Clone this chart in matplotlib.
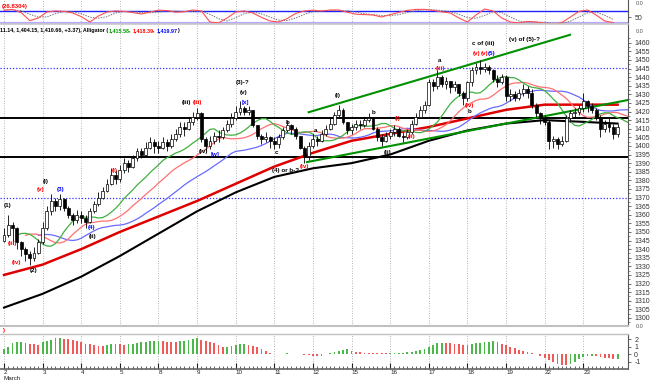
import numpy as np
import pandas as pd
import matplotlib
matplotlib.use("Agg")
import matplotlib.pyplot as plt
from matplotlib.ticker import FixedLocator

# ---------------- data ----------------
day_labels = ["2", "3", "4", "5", "8", "9", "10", "11", "12",
              "15", "16", "17", "18", "19", "22", "23"]
month_label = "March"
bars_per_day = 9
first_open = 1345

close = [
    1348, 1354, 1352, 1344, 1340, 1337, 1335, 1338, 1344,
    1352, 1362, 1368, 1365, 1369, 1364, 1360, 1357, 1360,
    1358, 1356, 1362, 1366, 1370, 1374, 1378, 1383, 1381,
    1386, 1390, 1388, 1393, 1397, 1395, 1399, 1402, 1400,
    1399, 1402, 1400, 1404, 1407, 1411, 1410, 1414, 1417,
    1419, 1404, 1400, 1403, 1406, 1405, 1409, 1413, 1416,
    1420, 1422, 1420, 1421, 1412, 1406, 1404, 1405, 1403,
    1401, 1405, 1409, 1412, 1410, 1406, 1399, 1394, 1400,
    1404, 1403, 1407, 1410, 1413, 1418, 1421, 1414, 1409,
    1411, 1413, 1412, 1415, 1416, 1410, 1405, 1403, 1406,
    1408, 1410, 1406, 1405, 1408, 1413, 1417, 1421, 1424,
    1437, 1435, 1440, 1436, 1438, 1434, 1436, 1431, 1428,
    1437, 1444, 1446, 1445, 1446, 1444, 1439, 1437, 1440,
    1429, 1430, 1428, 1431, 1433, 1431, 1424, 1419, 1416,
    1414, 1403, 1404, 1401, 1403, 1416, 1419, 1420, 1422,
    1426, 1423, 1421, 1417, 1410, 1413, 1411, 1407, 1411,
]
high = [
    1352, 1360, 1356, 1353, 1345, 1341, 1339, 1341, 1346,
    1356, 1365, 1372, 1370, 1372, 1370, 1365, 1361, 1363,
    1362, 1360, 1364, 1368, 1373, 1376, 1381, 1387, 1386,
    1389, 1393, 1392, 1395, 1399, 1399, 1402, 1405, 1404,
    1403, 1405, 1404, 1407, 1410, 1414, 1414, 1417, 1420,
    1422, 1420, 1405, 1406, 1408, 1409, 1411, 1415, 1419,
    1423, 1426, 1423, 1423, 1421, 1412, 1407, 1408, 1406,
    1405, 1407, 1411, 1415, 1413, 1411, 1406, 1400, 1402,
    1407, 1406, 1409, 1412, 1416, 1420, 1424, 1422, 1414,
    1413, 1415, 1415, 1417, 1419, 1417, 1411, 1407, 1408,
    1410, 1412, 1411, 1408, 1410, 1415, 1419, 1423, 1426,
    1439, 1439, 1444, 1441, 1440, 1438, 1438, 1436, 1432,
    1438, 1446, 1448, 1450, 1448, 1447, 1445, 1441, 1442,
    1441, 1433, 1432, 1433, 1436, 1435, 1433, 1425, 1420,
    1418, 1415, 1406, 1405, 1406, 1418, 1421, 1422, 1424,
    1431, 1427, 1425, 1422, 1418, 1415, 1416, 1413, 1413,
]
low = [
    1344, 1347, 1343, 1340, 1336, 1333, 1331, 1333, 1337,
    1343, 1351, 1360, 1362, 1363, 1362, 1358, 1354, 1355,
    1355, 1352, 1355, 1361, 1365, 1369, 1373, 1377, 1378,
    1379, 1384, 1385, 1387, 1391, 1393, 1394, 1398, 1396,
    1396, 1398, 1397, 1399, 1403, 1405, 1406, 1409, 1412,
    1415, 1402, 1397, 1398, 1401, 1402, 1404, 1408, 1411,
    1415, 1418, 1418, 1418, 1411, 1404, 1401, 1402, 1399,
    1398, 1399, 1404, 1408, 1407, 1404, 1398, 1390, 1392,
    1399, 1400, 1402, 1406, 1409, 1412, 1417, 1413, 1407,
    1407, 1409, 1410, 1411, 1414, 1409, 1403, 1400, 1402,
    1404, 1406, 1405, 1402, 1404, 1407, 1412, 1416, 1419,
    1423, 1432, 1433, 1434, 1433, 1431, 1432, 1429, 1424,
    1426, 1435, 1442, 1442, 1443, 1442, 1437, 1434, 1436,
    1426, 1426, 1426, 1427, 1429, 1428, 1422, 1417, 1413,
    1412, 1398, 1399, 1398, 1400, 1402, 1414, 1416, 1418,
    1420, 1420, 1419, 1415, 1405, 1408, 1408, 1404, 1405,
]

# long moving averages, value at each day start and at the last bar
ma_red_thick = [1325, 1331, 1340, 1350, 1359, 1368, 1378, 1388, 1396,
                1403, 1407, 1411, 1416, 1421, 1424, 1424, 1424]
ma_black_thick = [1306, 1314, 1324, 1336, 1349, 1362, 1373, 1382, 1387,
                  1390, 1395, 1403, 1409, 1413, 1415, 1414, 1413]

# horizontal levels
level_solid = [1416.3, 1393.5]
level_dotted = [1445.5, 1369.5]

# channel lines: (bar, price) endpoints
channel_upper = [(71.0, 1419.6), (131.9, 1464.6)]
channel_lower = [(70.6, 1390.6), (145.4, 1426.7)]

# stochastic (%K) every 2 bars
stoch_k = [84, 88, 72, 32, 45, 75, 80, 78, 70, 52, 25, 55, 75, 80, 78, 72,
           65, 75, 84, 82, 74, 76, 85, 80, 25, 20, 45, 75, 80, 70, 48, 30,
           25, 42, 68, 80, 84, 80, 85, 85, 74, 64, 62, 60, 50, 62, 73, 83,
           88, 88, 83, 76, 70, 45, 25, 60, 90, 80, 45, 25, 20, 28, 25, 18,
           15, 22, 50, 78, 85, 60, 30, 22]

# lower oscillator histogram (one value per bar)
hist = [
    0.64, 0.9, 1.45, 1.6, 1.64, 1.45, 1.36, 1.32, 1.23,
    1.55, 1.73, 1.9, 2.1, 2.14, 2.05, 2.0, 1.82, 1.73,
    1.6, 1.36, 1.27, 1.18, 1.05, 1.04, 1.18, 1.27, 1.36,
    1.27, 1.26, 1.32, 1.36, 1.45, 1.55, 1.64, 1.68, 1.73,
    1.77, 1.73, 1.64, 1.63, 1.62, 1.68, 1.77, 1.86, 2.0,
    2.1, 1.9, 1.77, 1.64, 1.45, 1.23, 0.95, 1.0, 1.09,
    1.18, 1.27, 1.28, 1.23, 1.09, 0.91, 0.64, 0.45, 0.18,
    0.05, 0.06, 0.04, 0.07, 0.05, 0.03, -0.05, -0.1, -0.15,
    -0.2, -0.25, -0.2, -0.05, 0.15, 0.3, 0.45, 0.55, 0.64,
    0.45, 0.3, 0.25, 0.2, 0.18, 0.15, 0.12, 0.1, 0.08,
    0.1, 0.12, 0.15, 0.2, 0.25, 0.3, 0.4, 0.5, 0.7,
    1.0, 1.2, 1.45, 1.5, 1.48, 1.45, 1.4, 1.3, 1.2,
    1.25, 1.35, 1.45, 1.5, 1.55, 1.6, 1.7, 1.6, 1.4,
    1.2, 1.0, 0.8, 0.55, 0.4, 0.25, 0.1, 0.05, -0.2,
    -0.5, -0.8, -1.1, -1.3, -1.4, -1.5, -1.3, -1.0, -0.7,
    -0.4, -0.3, -0.25, -0.3, -0.4, -0.5, -0.55, -0.6, -0.6,
]

# wave labels: text, bar, price, colour
wave_text = ["(1)", "(iii)", "(iv)", "(2)", "(i)", "(v)", "(3)", "(4)", "(ii)",
             "(i)", "(iii)", "(iii)", "(iv)", "[w]", "(3)-?", "(v)", "[x]",
             "c", "b", "(iv)", "(4) or b-?", "a", "(i)", "b", "(ii)", "(i)",
             "(ii)", "a", "(iii)", "(iv)", "b", "c of (iii)", "(v)", "(v)",
             "(5)", "(v) of (5)-?"]
wave_bar = [0.9, 1.9, 2.8, 7.0, 9.8, 8.6, 13.3, 20.5, 20.7,
            25.9, 42.6, 45.2, 46.4, 49.2, 55.7, 55.9, 56.2,
            63.6, 66.0, 70.1, 65.7, 72.5, 77.8, 86.0, 89.3, 91.8,
            95.1, 101.6, 101.8, 108.4, 108.6, 111.6, 110.2, 111.9,
            113.7, 121.2]
wave_price = [1365.6, 1343.5, 1332.5, 1327.8, 1379.6, 1374.4, 1374.4, 1352.3, 1347.6,
              1386.0, 1425.0, 1425.0, 1396.5, 1395.3, 1436.6, 1430.8, 1425.5,
              1395.9, 1413.9, 1388.3, 1386.0, 1409.2, 1429.6, 1419.7, 1395.9, 1416.2,
              1405.2, 1449.9, 1445.3, 1423.8, 1420.3, 1459.8, 1454.0, 1454.0,
              1454.0, 1461.6]
wave_color = ["k", "r", "r", "k", "k", "r", "b", "b", "k",
              "r", "k", "r", "k", "b", "k", "k", "b",
              "k", "k", "r", "k", "k", "k", "k", "k", "r",
              "r", "k", "r", "r", "k", "k", "r", "r",
              "b", "k"]

header_parts = [("11.14, 1,404.15, 1,410.66, +3.37), Alligator (", "#000000"),
                ("1,415.58", "#00a000"), (", ", "#000000"),
                ("1,418.39", "#ff0000"), (", ", "#000000"),
                ("1,419.97", "#0000ff"), (")", "#000000")]
stoch_title = "(26.8304)"

# ---------------- drawing ----------------
plt.rcParams['font.family'] = ['Liberation Sans', 'DejaVu Sans']
W, H = 650, 381
fig = plt.figure(figsize=(6.5, 3.81), dpi=100)
fig.patch.set_facecolor("white")


def rect(x0, y0, x1, y1):
    return [x0 / W, 1 - y1 / H, (x1 - x0) / W, (y1 - y0) / H]


px_per_bar = 4.291
xlim = (-4 / px_per_bar, 624 / px_per_bar)

ax_st = fig.add_axes(rect(0, 0, 628, 24))
ax = fig.add_axes(rect(0, 24, 628, 326))
ax_h = fig.add_axes(rect(0, 334, 628, 369))

n = len(close)
x = np.arange(n)
c = np.array(close, float)
o = np.concatenate([[first_open], c[:-1]])
hi = np.maximum(np.array(high, float), np.maximum(o, c))
lo = np.minimum(np.array(low, float), np.minimum(o, c))
day_starts = np.arange(len(day_labels)) * bars_per_day

grid_kw = dict(color="#9a9a9a", lw=0.6, ls=(0, (1, 2)), zorder=0)
for a in (ax_st, ax, ax_h):
    a.set_xlim(*xlim)
    for d in day_starts:
        a.axvline(d, **grid_kw)
    for s in ("left", "top", "bottom"):
        a.spines[s].set_visible(False)
    a.spines["right"].set_color("#555555")
    a.spines["right"].set_linewidth(0.8)
    a.yaxis.tick_right()
    a.tick_params(axis="y", which="major", labelsize=5, length=2.5, width=0.5,
                  colors="#333333", pad=2)
    a.tick_params(axis="y", which="minor", length=1.3, width=0.4, colors="#333333")
    a.set_xticks([])

# --- stochastic panel
ax_st.set_ylim(15, 135)
kx = np.arange(len(stoch_k)) * 2
k = pd.Series(stoch_k, dtype=float)
sig = k.rolling(3, min_periods=1).mean()
ax_st.axhline(80, color="#2020ff", lw=1.0, zorder=1)
ax_st.axhline(20, color="#b8a8ff", lw=1.6, zorder=1)
ax_st.plot(kx, sig, color="#777777", lw=0.7, ls=(0, (1.5, 1.2)), zorder=2)
ax_st.plot(kx, k, color="#ff5050", lw=0.8, zorder=3)
ax_st.set_yticks([50])
ax_st.set_yticklabels(["50"])
fig.text(2 / W, 1 - 9 / H, stoch_title, color="#ff0000", fontsize=4.3,
         fontweight="bold", va="bottom")

# --- main price panel
ax.set_ylim(1295.3, 1470.9)
ax.yaxis.set_major_locator(FixedLocator(np.arange(1300, 1461, 5)))
ax.yaxis.set_minor_locator(FixedLocator(np.arange(1297.5, 1463, 5)))

for lv in level_solid:
    ax.axhline(lv, color="#000000", lw=1.4, zorder=1.5)
for lv in level_dotted:
    ax.axhline(lv, color="#3030ff", lw=0.9, ls=(0, (1, 1.5)), zorder=1.5)

ma_x = list(day_starts) + [n - 1]
ax.plot(ma_x, ma_black_thick, color="#000000", lw=1.5, zorder=2)
ax.plot(ma_x, ma_red_thick, color="#e00000", lw=1.8, zorder=2)

median = pd.Series((hi + lo) / 2.0)
jaw = median.ewm(alpha=1 / 13, adjust=False).mean()
teeth = median.ewm(alpha=1 / 8, adjust=False).mean()
lips = median.ewm(alpha=1 / 5, adjust=False).mean()
ax.plot(x + 8, jaw, color="#6a6aff", lw=0.9, zorder=2.2)
ax.plot(x + 5, teeth, color="#ff7070", lw=0.9, zorder=2.2)
ax.plot(x + 3, lips, color="#40b040", lw=0.9, zorder=2.2)

for seg in (channel_upper, channel_lower):
    ax.plot([seg[0][0], seg[1][0]], [seg[0][1], seg[1][1]], color="#009000",
            lw=1.5, zorder=2.4)

ax.vlines(x, lo, hi, color="#000000", lw=0.6, zorder=3)
body_low = np.minimum(o, c)
body_h = np.maximum(np.abs(c - o), 0.4)
face = np.where(c >= o, "#ffffff", "#000000")
ax.bar(x, body_h, bottom=body_low, width=0.68, color=face, edgecolor="#000000",
       linewidth=0.5, zorder=3.5)

for t, bx, bp, col in zip(wave_text, wave_bar, wave_price, wave_color):
    cc = {"k": "#000000", "r": "#ff0000", "b": "#0000ff"}[col]
    ax.text(bx, bp, t, color=cc, fontsize=4.5, fontweight="bold",
            ha="center", va="center", zorder=5)

# header text (multi coloured)
prev = fig.text(0, 1 - 33 / H, header_parts[0][0], color=header_parts[0][1],
                fontsize=3.9, fontweight="bold", va="bottom", ha="left")
for t, col in header_parts[1:]:
    prev = fig.add_artist(plt.Annotation(t, xy=(1, 0), xycoords=prev,
                                         va="bottom", ha="left", color=col,
                                         fontsize=3.9, fontweight="bold"))

# --- histogram panel
ax_h.set_ylim(-2.0, 2.67)
ax_h.set_yticks([2, 1, 0, -1])
ax_h.set_yticklabels(["2", "1", "0", "-1"])
hv = np.array(hist, float)
prev_v = np.concatenate([[hv[0] - 1], hv[:-1]])
hcol = np.where(hv >= prev_v, "#4cb84c", "#f25a5a")
ax_h.bar(np.arange(len(hv)), hv, width=0.42, color=hcol, zorder=2)
ax_h.set_xticks(day_starts)
ax_h.set_xticklabels(day_labels, ha="left")
ax_h.xaxis.set_minor_locator(FixedLocator(np.arange(0, 145, 1)))
ax_h.tick_params(axis="x", which="major", direction="in", length=4, width=0.8,
                 labelsize=4.5, pad=1, colors="#222222")
ax_h.tick_params(axis="x", which="minor", direction="in", length=2, width=0.5,
                 colors="#222222")
ax_h.spines["bottom"].set_visible(True)
ax_h.spines["bottom"].set_color("#666666")
ax_h.spines["bottom"].set_linewidth(1.2)
fig.text(4 / W, 1 - 381 / H, month_label, fontsize=4.5, color="#222222",
         va="bottom", ha="left")

# separators
for yy, col, lw in ((24, "#c8c8c8", 1.2), (326, "#c0c0c0", 1.5), (334, "#c0c0c0", 1.0)):
    fig.add_artist(plt.Line2D([0, 628 / W], [1 - yy / H, 1 - yy / H], color=col, lw=lw))
fig.text(2 / W, 1 - 333 / H, ")", color="#ff0000", fontsize=4.5,
         fontweight="bold", va="bottom")
for yy in (6, 34, 329):
    fig.text(636 / W, 1 - yy / H, "0.0", fontsize=4, color="#555555", va="bottom")

fig.savefig("out.png", dpi=100, facecolor="white")
